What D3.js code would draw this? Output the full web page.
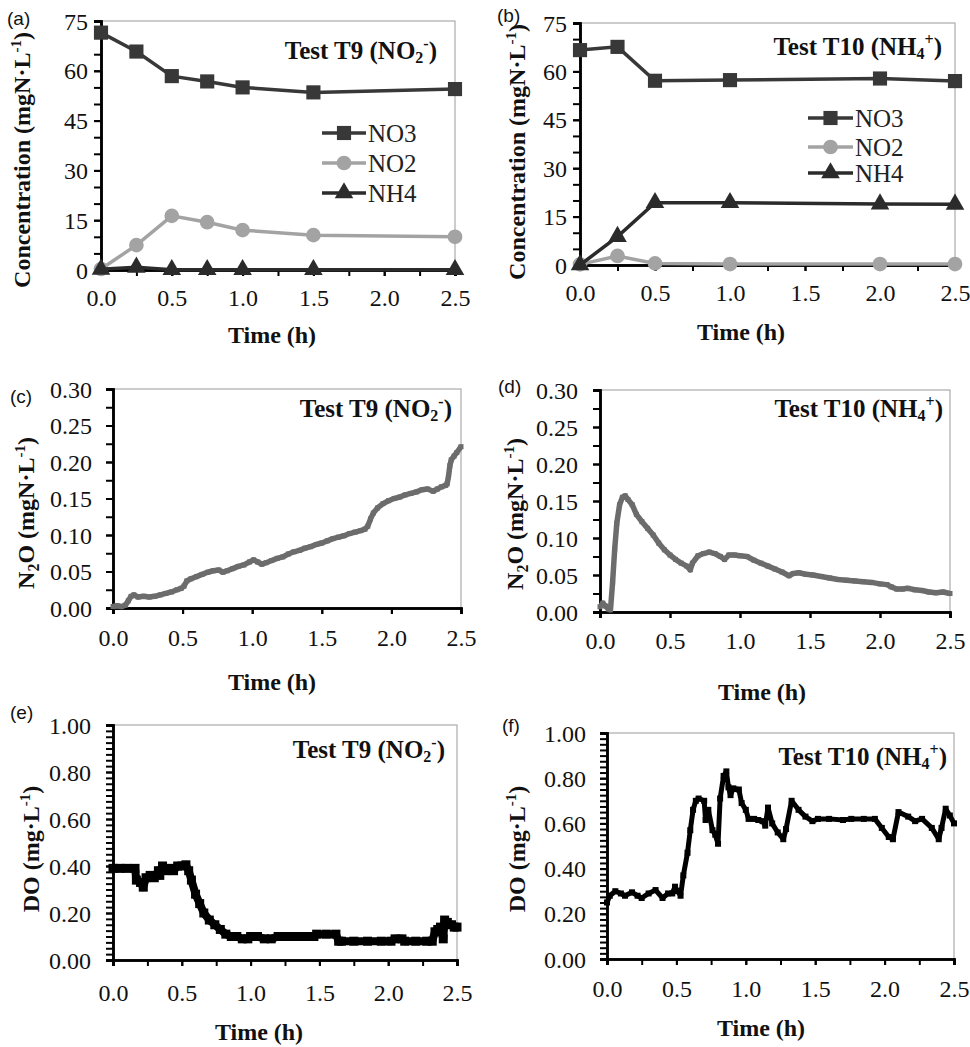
<!DOCTYPE html>
<html><head><meta charset="utf-8">
<script src="https://cdn.jsdelivr.net/npm/d3@7/dist/d3.min.js"></script>
<style>
html,body{margin:0;padding:0;background:#fff;}
svg text{font-family:"Liberation Serif","Times New Roman",Times,serif;}
</style></head>
<body>
<svg id="chart" width="970" height="1047"></svg>
<script>
// ---------- DATA ----------
const timeA = [0, 0.25, 0.5, 0.75, 1.0, 1.5, 2.5];
const no3A  = [71.5, 65.8, 58.4, 56.8, 55.0, 53.5, 54.5];
const no2A  = [0.3, 7.5, 16.3, 14.4, 12.0, 10.5, 10.0];
const nh4A  = [0.2, 0.8, 0.1, 0.1, 0.1, 0.1, 0.1];

const timeB = [0, 0.25, 0.5, 1.0, 2.0, 2.5];
const no3B  = [66.6, 67.6, 57.1, 57.3, 57.8, 57.0];
const no2B  = [0.2, 2.8, 0.5, 0.3, 0.3, 0.3];
const nh4B  = [0.0, 8.8, 19.3, 19.3, 18.9, 18.8];

const n2oT9Time = [0,0.03,0.06,0.09,0.11,0.13,0.15,0.18,0.22,0.26,0.30,0.34,0.38,0.42,0.46,0.49,0.51,0.53,0.56,0.60,0.64,0.68,0.72,0.76,0.79,0.82,0.86,0.90,0.94,0.98,1.01,1.04,1.07,1.10,1.14,1.18,1.22,1.26,1.30,1.34,1.38,1.42,1.46,1.50,1.54,1.58,1.62,1.66,1.70,1.74,1.78,1.81,1.83,1.85,1.87,1.90,1.94,1.98,2.02,2.06,2.10,2.14,2.18,2.22,2.26,2.30,2.33,2.36,2.39,2.40,2.41,2.42,2.43,2.45,2.47,2.50];
const n2oT9 = [0.002,0.003,0.002,0.004,0.010,0.016,0.018,0.015,0.016,0.015,0.016,0.018,0.020,0.022,0.025,0.027,0.030,0.037,0.040,0.043,0.046,0.049,0.051,0.052,0.049,0.051,0.054,0.057,0.059,0.063,0.066,0.063,0.060,0.062,0.065,0.068,0.070,0.074,0.077,0.079,0.082,0.084,0.087,0.089,0.092,0.095,0.097,0.099,0.102,0.104,0.106,0.108,0.112,0.122,0.130,0.137,0.143,0.147,0.150,0.152,0.155,0.157,0.159,0.162,0.163,0.160,0.163,0.166,0.168,0.170,0.180,0.195,0.203,0.208,0.213,0.221];

const n2oT10Time = [0,0.02,0.04,0.06,0.075,0.09,0.105,0.12,0.14,0.16,0.18,0.20,0.23,0.26,0.30,0.34,0.38,0.42,0.46,0.50,0.54,0.58,0.62,0.645,0.66,0.70,0.74,0.78,0.82,0.86,0.89,0.92,0.96,1.00,1.05,1.10,1.15,1.20,1.25,1.30,1.35,1.38,1.42,1.47,1.52,1.58,1.64,1.70,1.76,1.82,1.88,1.94,2.00,2.05,2.08,2.12,2.16,2.20,2.25,2.30,2.35,2.40,2.45,2.50];
const n2oT10 = [0.007,0.012,0.008,0.004,0.003,0.040,0.085,0.120,0.145,0.155,0.157,0.152,0.145,0.132,0.122,0.113,0.104,0.093,0.084,0.077,0.071,0.066,0.062,0.057,0.066,0.076,0.079,0.081,0.079,0.075,0.071,0.077,0.077,0.076,0.075,0.070,0.066,0.062,0.058,0.054,0.049,0.052,0.053,0.051,0.050,0.048,0.046,0.044,0.043,0.042,0.041,0.040,0.038,0.037,0.034,0.031,0.031,0.032,0.030,0.029,0.027,0.026,0.027,0.025];

const doT9Time = [0,0.05,0.10,0.16,0.17,0.20,0.22,0.24,0.27,0.30,0.33,0.34,0.36,0.38,0.41,0.44,0.47,0.50,0.53,0.55,0.57,0.60,0.63,0.66,0.70,0.74,0.78,0.82,0.86,0.90,0.94,0.98,1.00,1.05,1.10,1.15,1.20,1.25,1.30,1.35,1.40,1.46,1.48,1.55,1.62,1.64,1.66,1.75,1.85,1.95,2.02,2.05,2.10,2.12,2.20,2.28,2.32,2.34,2.36,2.38,2.40,2.41,2.43,2.46,2.48,2.50];
const doT9 = [0.39,0.39,0.39,0.39,0.34,0.33,0.31,0.35,0.36,0.35,0.38,0.36,0.40,0.38,0.39,0.38,0.40,0.40,0.405,0.38,0.34,0.28,0.24,0.20,0.17,0.15,0.13,0.11,0.10,0.10,0.09,0.09,0.10,0.10,0.09,0.09,0.10,0.10,0.10,0.10,0.10,0.10,0.11,0.11,0.11,0.08,0.08,0.08,0.08,0.08,0.08,0.09,0.09,0.08,0.08,0.08,0.08,0.12,0.13,0.14,0.09,0.17,0.16,0.15,0.14,0.14];

const doT10Time = [0,0.02,0.06,0.10,0.13,0.18,0.22,0.25,0.30,0.35,0.40,0.44,0.47,0.49,0.51,0.53,0.55,0.58,0.60,0.62,0.64,0.66,0.70,0.71,0.73,0.76,0.78,0.80,0.815,0.84,0.86,0.875,0.89,0.91,0.95,0.97,1.00,1.02,1.06,1.09,1.12,1.14,1.16,1.19,1.23,1.27,1.29,1.33,1.38,1.43,1.48,1.52,1.60,1.70,1.76,1.85,1.93,1.98,2.03,2.06,2.10,2.17,2.22,2.27,2.34,2.39,2.41,2.44,2.47,2.50];
const doT10 = [0.25,0.28,0.30,0.29,0.28,0.295,0.28,0.27,0.29,0.305,0.27,0.29,0.29,0.32,0.30,0.28,0.37,0.47,0.57,0.66,0.70,0.71,0.70,0.615,0.66,0.57,0.55,0.51,0.71,0.81,0.83,0.76,0.725,0.755,0.75,0.69,0.66,0.62,0.62,0.615,0.61,0.59,0.67,0.60,0.56,0.53,0.575,0.70,0.66,0.63,0.61,0.62,0.62,0.615,0.62,0.62,0.62,0.58,0.54,0.53,0.65,0.63,0.61,0.62,0.58,0.53,0.58,0.665,0.635,0.60];

const xTickLabels = [0, 0.5, 1.0, 1.5, 2.0, 2.5];
const concTicks = [0, 15, 30, 45, 60, 75];
const n2oTicks = [0, 0.05, 0.10, 0.15, 0.20, 0.25, 0.30];
const doTicks = [0, 0.2, 0.4, 0.6, 0.8, 1.0];
const legendNames = ["NO3", "NO2", "NH4"];

// ---------- DRAWING ----------
const SERIF = '"Liberation Serif", "Times New Roman", Times, serif';
const svg = d3.select("#chart");
const FS_TICK = 24, FS_TITLE = 24;

function rangeStep(a, b, s) { const r = []; for (let v = a; v <= b + 1e-9; v += s) r.push(+v.toFixed(4)); return r; }

function panel(o) {
  const x = d3.scaleLinear().domain([0, 2.5]).range([o.x0, o.x1]);
  const y = d3.scaleLinear().domain([0, o.ymax]).range([o.yb, o.yt]);
  const g = svg.append("g");
  g.append("rect").attr("x", o.x0).attr("y", o.yt).attr("width", o.x1 - o.x0).attr("height", o.yb - o.yt)
    .attr("fill", "none").attr("stroke", "#9a9a9a").attr("stroke-width", 1);
  const yMinor = g.append("g").attr("transform", `translate(${o.x0},0)`)
    .call(d3.axisLeft(y).tickValues(rangeStep(0, o.ymax, o.yMinor)).tickSize(7).tickFormat(""));
  const yMajor = g.append("g").attr("transform", `translate(${o.x0},0)`)
    .call(d3.axisLeft(y).tickValues(o.yTicks).tickSize(7).tickPadding(o.yPad).tickFormat(o.yFmt));
  const xMinor = g.append("g").attr("transform", `translate(0,${o.yb})`)
    .call(d3.axisBottom(x).tickValues(rangeStep(0, 2.5, o.xMinor)).tickSize(6).tickFormat(""));
  const xMajor = g.append("g").attr("transform", `translate(0,${o.yb})`)
    .call(d3.axisBottom(x).tickValues(xTickLabels).tickSize(6).tickPadding(o.xPad).tickFormat(d3.format(".1f")));
  [yMinor, yMajor, xMinor, xMajor].forEach(a => {
    a.attr("font-family", SERIF);
    a.select(".domain").attr("stroke", "#000").attr("stroke-width", 2.5);
    a.selectAll(".tick line").attr("stroke", "#000").attr("stroke-width", 2);
    a.selectAll(".tick text").attr("font-size", FS_TICK).attr("fill", "#111")
      .style("font-family", SERIF);
  });
  yMajor.selectAll(".tick text").attr("dy", "0.34em");
  g.append("text").attr("x", o.lx).attr("y", o.ly).text(o.letter)
    .style("font-family", '"Liberation Sans", Arial, sans-serif').attr("font-size", 19).attr("fill", "#111");
  g.append("text").attr("x", o.xtx).attr("y", o.xty).attr("text-anchor", "middle")
    .attr("font-weight", "bold").attr("font-size", FS_TITLE).attr("fill", "#111").text("Time (h)");
  const yt = g.append("text").attr("transform", `translate(${o.ytx},${o.yty}) rotate(-90)`)
    .attr("text-anchor", "middle").attr("font-weight", "bold").attr("font-size", FS_TITLE).attr("fill", "#111");
  o.yTitle(yt);
  const tl = g.append("text").attr("x", o.tx).attr("y", o.ty).attr("text-anchor", "end")
    .attr("font-weight", "bold").attr("font-size", 25).attr("fill", "#111");
  tl.append("tspan").text(o.test + " (" + o.ion);
  tl.append("tspan").attr("font-size", 16).attr("baseline-shift", "-4").text(o.sub);
  tl.append("tspan").attr("font-size", 16).attr("baseline-shift", "10").text(o.sup);
  tl.append("tspan").text(")");
  return { g, x, y };
}

function concTitle(t) {
  t.append("tspan").text("Concentration (mgN·L");
  t.append("tspan").attr("font-size", 15).attr("baseline-shift", "9").text("-1");
  t.append("tspan").text(")");
}
function n2oTitle(t) {
  t.append("tspan").text("N");
  t.append("tspan").attr("font-size", 16).attr("baseline-shift", "-5").text("2");
  t.append("tspan").text("O (mgN·L");
  t.append("tspan").attr("font-size", 15).attr("baseline-shift", "9").text("-1");
  t.append("tspan").text(")");
}
function doTitle(t) {
  t.append("tspan").text("DO (mg·L");
  t.append("tspan").attr("font-size", 15).attr("baseline-shift", "9").text("-1");
  t.append("tspan").text(")");
}

const styles = {
  NO3: { color: "#383838", sym: d3.symbolSquare, size: 200 },
  NO2: { color: "#a3a3a3", sym: d3.symbolCircle, size: 170 },
  NH4: { color: "#2b2b2b", sym: d3.symbolTriangle, size: 150 }
};

function concSeries(p, times, series, legend) {
  series.forEach(([name, vals]) => {
    const st = styles[name];
    const pts = times.map((t, i) => [p.x(t), p.y(vals[i])]);
    p.g.append("path").attr("d", d3.line()(pts)).attr("fill", "none")
      .attr("stroke", st.color).attr("stroke-width", 3.5);
    p.g.selectAll(null).data(pts).join("path")
      .attr("transform", d => `translate(${d[0]},${d[1]})`)
      .attr("d", d3.symbol(st.sym, st.size)).attr("fill", st.color);
  });
  legendNames.forEach((name, i) => {
    const st = styles[name];
    const yy = legend.ys[i];
    p.g.append("line").attr("x1", legend.x1).attr("x2", legend.x2).attr("y1", yy).attr("y2", yy)
      .attr("stroke", st.color).attr("stroke-width", 3.5);
    p.g.append("path").attr("transform", `translate(${(legend.x1 + legend.x2) / 2},${yy})`)
      .attr("d", d3.symbol(st.sym, st.size)).attr("fill", st.color);
    p.g.append("text").attr("x", legend.x2 + 2).attr("y", yy).attr("dy", "0.34em")
      .attr("font-size", 25).attr("fill", "#222").style("font-family", SERIF).text(name);
  });
}

function traceSeries(p, times, vals, color, width, marker) {
  const pts = times.map((t, i) => [p.x(t), p.y(vals[i])]);
  p.g.append("path").attr("d", d3.line()(pts)).attr("fill", "none")
    .attr("stroke", color).attr("stroke-width", width).attr("stroke-linejoin", "round");
  p.g.selectAll(null).data(pts).join("rect")
    .attr("x", d => d[0] - marker / 2).attr("y", d => d[1] - marker / 2)
    .attr("width", marker).attr("height", marker).attr("fill", color);
}

// (a)
const pa = panel({ x0: 101, x1: 455, yb: 270, yt: 21, ymax: 75, yTicks: concTicks, yMinor: 5, yPad: 6,
  yFmt: d3.format("d"), xMinor: 0.25, xPad: 13, letter: "(a)", lx: 7, ly: 25,
  xtx: 272, xty: 343, ytx: 30, yty: 160, yTitle: concTitle,
  tx: 437, ty: 59, test: "Test T9", ion: "NO", sub: "2", sup: "-" });
concSeries(pa, timeA, [["NO3", no3A], ["NO2", no2A], ["NH4", nh4A]], { x1: 322, x2: 366, ys: [133, 163, 193] });

// (b)
const pb = panel({ x0: 580, x1: 955, yb: 265, yt: 23, ymax: 75, yTicks: concTicks, yMinor: 5, yPad: 6,
  yFmt: d3.format("d"), xMinor: 0.25, xPad: 13, letter: "(b)", lx: 497, ly: 22,
  xtx: 741, xty: 340, ytx: 525, yty: 152, yTitle: concTitle,
  tx: 942, ty: 55, test: "Test T10", ion: "NH", sub: "4", sup: "+" });
concSeries(pb, timeB, [["NO3", no3B], ["NO2", no2B], ["NH4", nh4B]], { x1: 808, x2: 853, ys: [118, 147, 173] });

// (c)
const pc = panel({ x0: 113, x1: 461, yb: 608, yt: 389, ymax: 0.30, yTicks: n2oTicks, yMinor: 0.025, yPad: 14,
  yFmt: d3.format(".2f"), xMinor: 0.5, xPad: 15, letter: "(c)", lx: 10, ly: 403,
  xtx: 272, xty: 690, ytx: 34, yty: 513, yTitle: n2oTitle,
  tx: 452, ty: 417, test: "Test T9", ion: "NO", sub: "2", sup: "-" });
traceSeries(pc, n2oT9Time, n2oT9, "#6c6c6c", 5.5, 5);

// (d)
const pd = panel({ x0: 600, x1: 950, yb: 612, yt: 390, ymax: 0.30, yTicks: n2oTicks, yMinor: 0.025, yPad: 15,
  yFmt: d3.format(".2f"), xMinor: 0.5, xPad: 14, letter: "(d)", lx: 498, ly: 393,
  xtx: 762, xty: 700, ytx: 523, yty: 514, yTitle: n2oTitle,
  tx: 943, ty: 417, test: "Test T10", ion: "NH", sub: "4", sup: "+" });
traceSeries(pd, n2oT10Time, n2oT10, "#6c6c6c", 5.5, 5);

// (e)
const pe = panel({ x0: 113, x1: 457, yb: 960, yt: 725, ymax: 1.0, yTicks: doTicks, yMinor: 0.025, yPad: 15,
  yFmt: d3.format(".2f"), xMinor: 0.25, xPad: 18, letter: "(e)", lx: 10, ly: 719,
  xtx: 259, xty: 1040, ytx: 39, yty: 849, yTitle: doTitle,
  tx: 445, ty: 758, test: "Test T9", ion: "NO", sub: "2", sup: "-" });
traceSeries(pe, doT9Time, doT9, "#000", 8, 9);

// (f)
const pf = panel({ x0: 607, x1: 954, yb: 959, yt: 733, ymax: 1.0, yTicks: doTicks, yMinor: 0.025, yPad: 14,
  yFmt: d3.format(".2f"), xMinor: 0.25, xPad: 15, letter: "(f)", lx: 502, ly: 732,
  xtx: 761, xty: 1036, ytx: 525, yty: 849, yTitle: doTitle,
  tx: 947, ty: 765, test: "Test T10", ion: "NH", sub: "4", sup: "+" });
traceSeries(pf, doT10Time, doT10, "#000", 5, 6);
</script>
</body></html>
